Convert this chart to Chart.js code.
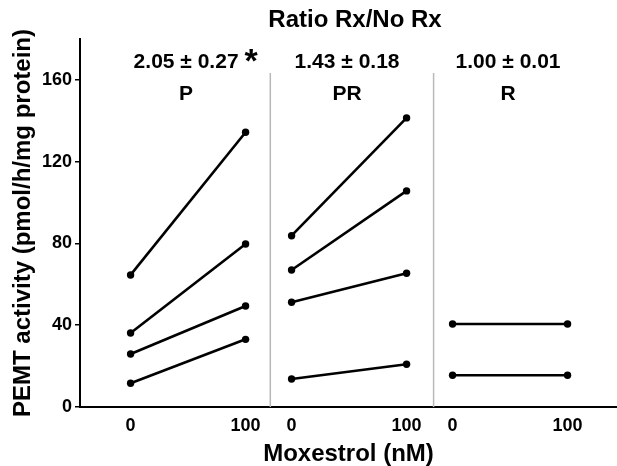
<!DOCTYPE html>
<html>
<head>
<meta charset="utf-8">
<script src="https://cdn.jsdelivr.net/npm/chart.js@4.4.0/dist/chart.umd.min.js"></script>
<style>
html, body { margin: 0; padding: 0; background: #fff; }
</style>
</head>
<body>
<canvas id="pemtChart" width="617" height="466"></canvas>
<script>
// groups and moxestrol doses
const panels = ['P', 'PR', 'R'];
const doses = [0, 100];
const ratioLabels = ['2.05 ± 0.27', '1.43 ± 0.18', '1.00 ± 0.01'];
const significant = [true, false, false];
// each pair = PEMT activity at 0 nM and 100 nM for one sample
const pValues = [[64.6, 134.4], [36.2, 79.7], [25.9, 49.4], [11.6, 33.1]];
const prValues = [[83.8, 141.4], [67.0, 105.7], [51.2, 65.4], [13.7, 20.9]];
const rValues = [[40.6, 40.6], [15.5, 15.5]];
const yTicks = [0, 40, 80, 120, 160];
const yMax = 180;

const panelValues = [pValues, prValues, rValues];

// layout only: where each panel sits on the x scale
const panelOffset = [0, 140, 280];
const dividers = [121.5, 263.5];
const FONT = "'Liberation Sans', Arial, sans-serif";

const xTickValues = panelOffset.flatMap(off => doses.map(d => off + d));

const datasets = [];
panelValues.forEach((vals, p) => {
    vals.forEach(pair => {
        datasets.push({
            data: doses.map((d, i) => ({ x: panelOffset[p] + d, y: pair[i] })),
            borderColor: '#000',
            backgroundColor: '#000',
            borderWidth: 2.6,
            pointRadius: 3.7,
            pointBackgroundColor: '#000',
            pointBorderWidth: 0
        });
    });
});

const headerPlugin = {
    id: 'headers',
    beforeDatasetsDraw(chart) {
        const ctx = chart.ctx;
        const x = chart.scales.x;
        const area = chart.chartArea;
        ctx.save();
        ctx.strokeStyle = '#b8b8b8';
        ctx.lineWidth = 1.5;
        dividers.forEach(v => {
            const px = x.getPixelForValue(v);
            ctx.beginPath();
            ctx.moveTo(px, 73);
            ctx.lineTo(px, area.bottom);
            ctx.stroke();
        });
        ctx.restore();
    },
    afterDraw(chart) {
        const ctx = chart.ctx;
        const x = chart.scales.x;
        ctx.save();
        ctx.fillStyle = '#000';
        ctx.textBaseline = 'alphabetic';
        ctx.textAlign = 'center';
        ctx.font = 'bold 24px ' + FONT;
        ctx.fillText('Ratio Rx/No Rx', 355, 27);
        panels.forEach((name, p) => {
            const cx = (x.getPixelForValue(panelOffset[p] + doses[0]) +
                        x.getPixelForValue(panelOffset[p] + doses[1])) / 2;
            ctx.textAlign = 'center';
            ctx.font = 'bold 21px ' + FONT;
            ctx.fillText(ratioLabels[p], cx - 2, 68);
            ctx.fillText(name, cx - 2, 100);
            if (significant[p]) {
                const w = ctx.measureText(ratioLabels[p]).width;
                ctx.textAlign = 'left';
                ctx.font = 'bold 34px ' + FONT;
                ctx.fillText('*', cx - 2 + w / 2 + 6, 72);
            }
        });
        ctx.restore();
    }
};

new Chart(document.getElementById('pemtChart'), {
    type: 'line',
    data: { datasets: datasets },
    options: {
        responsive: false,
        animation: false,
        layout: { autoPadding: false, padding: { top: 39, right: 0, bottom: 0, left: 0 } },
        plugins: {
            legend: { display: false },
            tooltip: { enabled: false }
        },
        scales: {
            x: {
                type: 'linear',
                min: -44,
                max: 423,
                afterBuildTicks(scale) {
                    scale.ticks = xTickValues.map(v => ({ value: v }));
                },
                afterFit(scale) { scale.height = 59; },
                ticks: {
                    color: '#000',
                    padding: 8,
                    maxRotation: 0,
                    font: { family: FONT, size: 18, weight: 'bold' },
                    callback: (value, index) => String(doses[index % doses.length])
                },
                grid: { display: true, drawOnChartArea: false, drawTicks: false },
                border: { display: true, color: '#000', width: 2 },
                title: {
                    display: true,
                    text: 'Moxestrol (nM)',
                    color: '#000',
                    padding: { top: 0, bottom: 0 },
                    font: { family: FONT, size: 24, weight: 'bold', lineHeight: 1.0 }
                }
            },
            y: {
                min: 0,
                max: yMax,
                afterBuildTicks(scale) {
                    scale.ticks = yTicks.map(v => ({ value: v }));
                },
                afterFit(scale) { scale.width = 80; },
                ticks: {
                    color: '#000',
                    padding: 3,
                    font: { family: FONT, size: 18, weight: 'bold' }
                },
                grid: {
                    display: true,
                    drawOnChartArea: false,
                    drawTicks: true,
                    tickLength: 5,
                    color: '#000',
                    lineWidth: 1.5
                },
                border: { display: true, color: '#000', width: 2 },
                title: {
                    display: true,
                    text: 'PEMT activity (pmol/h/mg protein)',
                    color: '#000',
                    padding: { top: 9, bottom: 0 },
                    font: { family: FONT, size: 24, weight: 'bold', lineHeight: 1.2 }
                }
            }
        }
    },
    plugins: [headerPlugin]
});
</script>
</body>
</html>
